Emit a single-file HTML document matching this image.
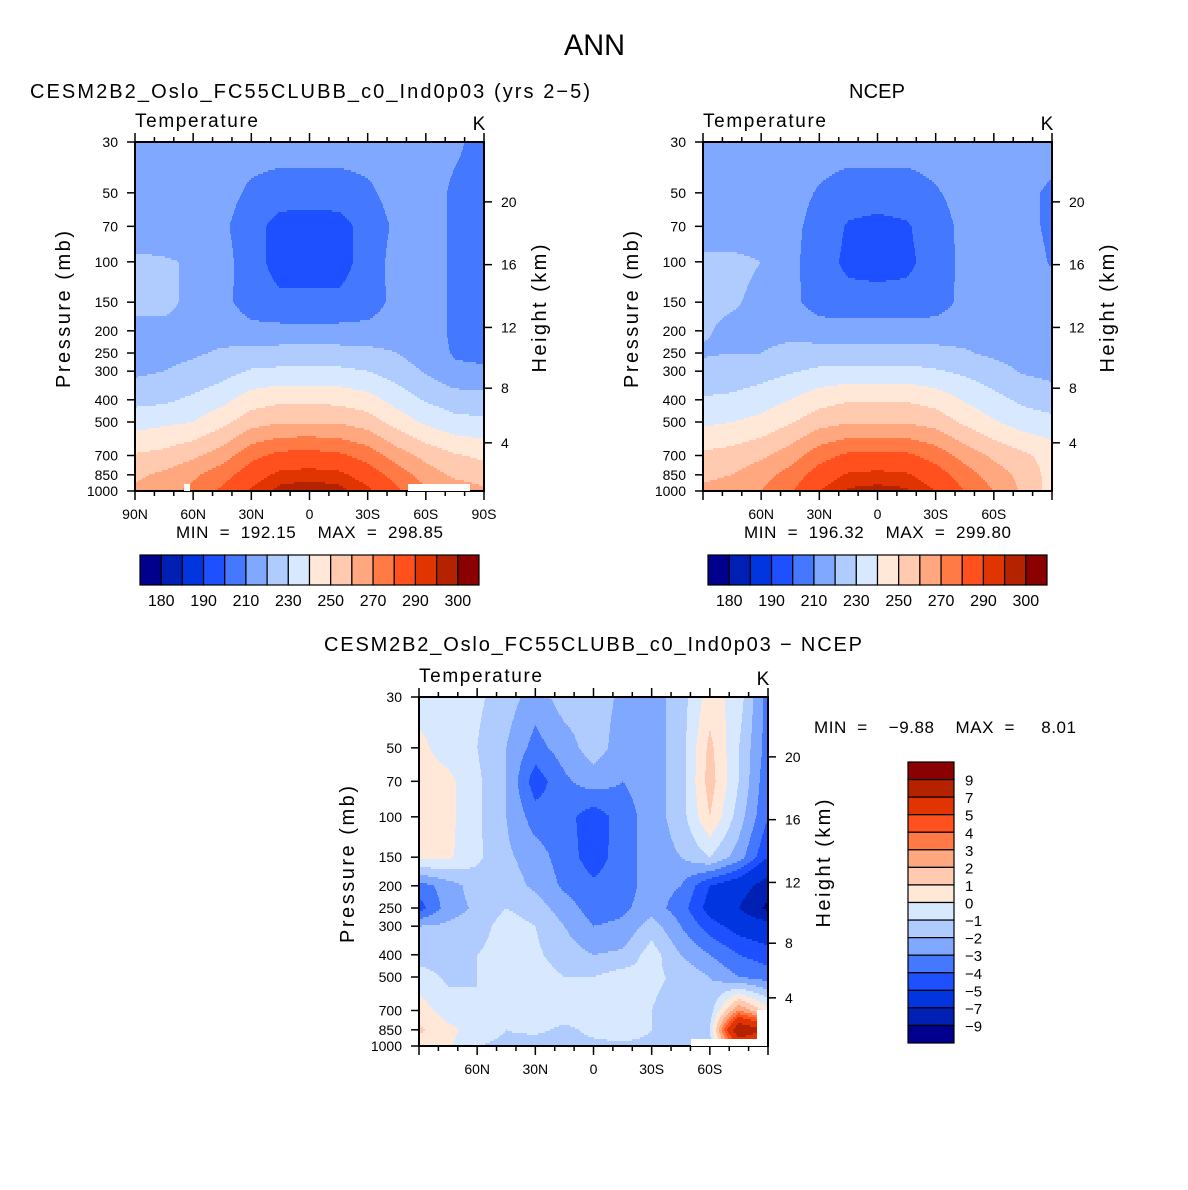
<!DOCTYPE html>
<html><head><meta charset="utf-8"><style>
html,body{margin:0;padding:0;background:#fff;}
svg{display:block;font-family:"Liberation Sans",sans-serif;}
text{fill:#000;white-space:pre;}
</style></head><body>
<svg id="root" width="1188" height="1190" viewBox="0 0 1188 1190" xmlns="http://www.w3.org/2000/svg">
<rect width="1188" height="1190" fill="#fff"/>
<text x="564" y="55" font-size="30" textLength="61" lengthAdjust="spacingAndGlyphs">ANN</text>
<g id="g1"></g>
<g id="g2"></g>
<g id="g3"></g>
</svg>
<script>
// ---- data ----
const lats = [90,75,60,45,30,15,0,-15,-30,-45,-60,-75,-90];
const plevs = [30,50,70,100,150,200,250,300,400,500,700,850,1000];
const tLevels = [180,185,190,200,210,220,230,240,250,260,270,280,290,295,300];
const tLabels = ["180","190","210","230","250","270","290","300"];
const dLevels = [-9,-7,-5,-4,-3,-2,-1,0,1,2,3,4,5,7,9];
const dLabels = ["9","7","5","4","3","2","1","0","\u22121","\u22122","\u22123","\u22124","\u22125","\u22127","\u22129"];
const pTicks = [30,50,70,100,150,200,250,300,400,500,700,850,1000];
const zTicks = [4,8,12,16,20];
const latTicksFull = ["90N","60N","30N","0","30S","60S","90S"];
const latTickVals = [90,60,30,0,-30,-60,-90];
const colors = ["#00008c","#0020b4","#0035e0","#1e50ff","#4479ff","#80a8ff","#b0ccff","#d8e8ff",
 "#ffe8d8","#ffcab0","#ffa880","#ff7a45","#ff501e","#e03500","#b52200","#8b0000"];
const modelT = [
 [215,215,215,215,215,215,215,215,215,215,215,212,206],
 [215,215,215,214,208,205,205,205,208,214,215,208,206],
 [214,214,214,212,204,196,195,196,204,212,215,208,206],
 [222,221,219,214,204,196,196,196,204,214,215,208,207],
 [222,222,218,213,205,202,202,202,205,213,215,208,207],
 [218,218,218,217,213,213,213,213,213,215,215,208,206],
 [217,218,219,221,223,224,224,224,223,220,215,209,207],
 [218,220,222,226,231,232,232,232,230,225,219,212,212],
 [227,228,232,237,245,248,248,247,244,236,229,225,224],
 [236,238,240,247,256,259,259,259,255,246,238,233,232],
 [251,253,258,265,277,283,284,282,276,265,257,251,248],
 [258,262,268,276,286,292,293,292,286,276,265,258,255],
 [262,266,273,282,291,297,298,297,292,282,272,266,262]];
const ncepT = [
 [215,219,215,215,215,215,215,215,215,215,214,215,215],
 [215,215,215,214,209,205,205,205,209,214,215,213,208],
 [215,215,215,213,206,199,197,199,205,213,215,213,208],
 [222,222,220,213,204,198,197,198,204,213,215,215,209],
 [222,221,218,213,205,203,203,203,205,213,216,216,215],
 [221,218,218,218,215,215,215,215,215,216,216,216,216],
 [219,220,220,222,224,224,224,224,223,221,218,216,214],
 [223,224,226,229,232,233,233,233,231,228,224,219,217],
 [231,232,235,240,246,249,249,249,246,239,233,228,225],
 [238,240,243,249,256,259,259,259,256,248,241,235,233],
 [252,254,258,265,276,282,283,282,276,266,258,252,246],
 [258,260,266,274,285,291,292,291,285,275,265,257,246],
 [262,264,270,279,290,296,297,296,290,280,270,258,246]];
const diffT = [
 [-0.5,-0.5,-0.8,-1.5,-2.5,-1.5,-1.5,-2.2,-2.5,-1.5,0.5,-0.5,-3.5],
 [0.3,-0.5,-1,-2,-3.4,-2.5,-1.5,-2.5,-2.5,-1.5,1.3,-1,-3.5],
 [0.5,0.3,-0.8,-2,-4.6,-3.2,-2.5,-3,-2.5,-1.5,1.5,-1,-3.8],
 [0.5,0.3,-0.8,-2,-3.5,-3.6,-4.6,-3.5,-2.5,-1.5,1,-1.5,-4],
 [0.3,0.2,-0.8,-1.8,-2.5,-3.5,-4.5,-3.5,-2.5,-2,-1,-2.5,-5],
 [-3.5,-2.5,-1.5,-1.5,-2.2,-3.2,-3.8,-3.5,-2.5,-3,-5,-6,-8],
 [-4.5,-2.5,-1.8,-1,-1.5,-2.5,-3.5,-3.2,-2.5,-3.5,-5.5,-7,-9.5],
 [-2,-1.8,-1.5,-0.5,-1,-2,-3,-2.8,-1.5,-3,-4.5,-5.5,-6],
 [-1.5,-1.5,-1,-0.5,-0.8,-1.5,-2,-1.8,-0.5,-2,-3,-4,-4.5],
 [-0.5,-1.2,-1,-0.5,-0.5,-1,-1,-0.5,-0.8,-1.2,-2,-3,-3.5],
 [0.5,-0.5,-1,-0.5,-0.5,-0.5,-0.5,-0.5,-1,-1.5,-1.5,3,0.5],
 [1.2,0.3,-0.5,-1,-0.8,-1.2,-0.8,-0.5,-1,-2,-1,9,7],
 [0.5,0.2,-1,-1.2,-1.5,-1.2,-1.2,-1.2,-1.2,-1.5,-1.5,5,3]];

const NS = "http://www.w3.org/2000/svg";
function mk(parent, tag, attrs, txt){
  const e = document.createElementNS(NS, tag);
  for (const k in attrs) e.setAttribute(k, attrs[k]);
  if (txt !== undefined) e.textContent = txt;
  parent.appendChild(e);
  return e;
}
function binIndex(v, lv){ let i=0; while(i<lv.length && v>=lv[i]) i++; return i; }
function zToP(z){ const m=z*1000; return m<=11000 ? 1013.25*Math.pow(1-2.25577e-5*m,5.25588) : 226.32*Math.exp(-(m-11000)/6341.6); }

function panel(g, X0, Y0, W, H, grid, lv, latLabels, latVals, fullLat){
  const lp0=Math.log(30), lp1=Math.log(1000);
  const yP = p => Y0 + H*(Math.log(p)-lp0)/(lp1-lp0);
  const xL = lat => X0 + W*(90-lat)/180;
  const invP = y => Math.exp(lp0 + (y-Y0)/H*(lp1-lp0));
  const field = mk(g,'g',{});
  
  
  const step=2;
  for (let y=Y0; y<Y0+H; y+=step){
    const p = invP(y+step/2);
    let k=0; while(k<plevs.length-2 && p>plevs[k+1]) k++;
    let fy=(Math.log(p)-Math.log(plevs[k]))/(Math.log(plevs[k+1])-Math.log(plevs[k]));
    fy=Math.max(0,Math.min(1,fy));
    let runStart=X0, runC=-1;
    const hh=Math.min(step, Y0+H-y);
    for (let x=X0; x<=X0+W; x++){
      let c=-1;
      if (x<X0+W){
        const lat = 90-(x+0.5-X0)/W*180;
        let fi=(90-lat)/15; let i=Math.min(lats.length-2,Math.floor(fi)); let fx=fi-i;
        const v=(1-fy)*((1-fx)*grid[k][i]+fx*grid[k][i+1])+fy*((1-fx)*grid[k+1][i]+fx*grid[k+1][i+1]);
        c=binIndex(v,lv);
      }
      if (c!==runC){
        if (runC>=0){
          const r=mk(field,'rect',{x:runStart,y:y,width:x-runStart+0.6,height:hh+0.6,fill:colors[runC]});
          
          
        }
        runStart=x; runC=c;
      }
    }
  }
  const fr=mk(g,'rect',{x:X0,y:Y0,width:W,height:H,fill:'none',stroke:'#000','stroke-width':2});
  
  
  pTicks.forEach(p=>{
    const y=yP(p);
    mk(g,'line',{x1:X0-8,x2:X0,y1:y,y2:y,stroke:'#000','stroke-width':1.5});
    const t=mk(g,'text',{x:X0-17,y:y+5,'font-size':14,'text-anchor':'end'},String(p));
    
    
  });
  zTicks.forEach(z=>{
    const y=yP(zToP(z));
    mk(g,'line',{x1:X0+W,x2:X0+W+8,y1:y,y2:y,stroke:'#000','stroke-width':1.5});
    const t=mk(g,'text',{x:X0+W+17,y:y+5,'font-size':14},String(z));
    
    
  });
  for (let lat=90; lat>=-90; lat-=10){
    const x=xL(lat), major=(lat%30===0);
    const len=major?9:5;
    mk(g,'line',{x1:x,x2:x,y1:Y0+H,y2:Y0+H+len,stroke:'#000','stroke-width':1.5});
    mk(g,'line',{x1:x,x2:x,y1:Y0,y2:Y0-len,stroke:'#000','stroke-width':1.5});
  }
  latVals.forEach((lat,i)=>{
    if (!fullLat && Math.abs(lat)===90) return;
    const t=mk(g,'text',{x:xL(lat),y:Y0+H+28,'font-size':14,'text-anchor':'middle'},latLabels[i]);
    
    
  });
  const a=mk(g,'text',{x:0,y:0,'font-size':20,'text-anchor':'middle',textLength:157,lengthAdjust:'spacing',transform:`translate(${X0-65},${Y0+H/2-7}) rotate(-90)`},'Pressure (mb)');
   
  const b=mk(g,'text',{x:0,y:0,'font-size':20,'text-anchor':'middle',textLength:128,lengthAdjust:'spacing',transform:`translate(${X0+W+62},${Y0+H/2-8}) rotate(-90)`},'Height (km)');
   
  const c=mk(g,'text',{x:X0,y:Y0-15,'font-size':19,textLength:123,lengthAdjust:'spacing'},'Temperature');
   
  const d=mk(g,'text',{x:X0+W-5,y:Y0-12,'font-size':19,'text-anchor':'middle'},'K');
   
}

function hbar(g,X0,Y0,W,H){
  const n=colors.length, bw=W/n;
  colors.forEach((c,i)=>{
    const r=mk(g,'rect',{x:X0+i*bw,y:Y0,width:bw,height:H,fill:c,stroke:'#000','stroke-width':1.2});
     
  });
  tLabels.forEach((l,j)=>{
    const t=mk(g,'text',{x:X0+(1+2*j)*bw,y:Y0+H+21,'font-size':16,'text-anchor':'middle'},l);
     
  });
}

const g1=document.getElementById('g1'), g2=document.getElementById('g2'), g3=document.getElementById('g3');
panel(g1,135,142,349,349,modelT,tLevels,latTicksFull,latTickVals,true);
panel(g2,703,142,349,349,ncepT,tLevels,latTicksFull,latTickVals,false);
panel(g3,419,697,349,349,diffT,dLevels,latTicksFull,latTickVals,false);

[[g1,408,484,62,7],[g1,184,484,6,7],[g3,691,1039,66,7],[g3,757,1010,10,36]].forEach(m=>{
  const r=mk(m[0],'rect',{x:m[1],y:m[2],width:m[3],height:m[4],fill:'#fff'});
   
});

let t;
t=mk(g1,'text',{x:30,y:98,'font-size':20,textLength:560,lengthAdjust:'spacing'},'CESM2B2_Oslo_FC55CLUBB_c0_Ind0p03 (yrs 2\u22125)');
 
t=mk(g1,'text',{x:176,y:538,'font-size':17,textLength:267,lengthAdjust:'spacing'},'MIN  =  192.15    MAX  =  298.85');
 
hbar(g1,140,555,339,30);

t=mk(g2,'text',{x:849,y:98,'font-size':20,textLength:56,lengthAdjust:'spacing'},'NCEP');
 
t=mk(g2,'text',{x:744,y:538,'font-size':17,textLength:267,lengthAdjust:'spacing'},'MIN  =  196.32    MAX  =  299.80');
 
hbar(g2,708,555,339,30);

t=mk(g3,'text',{x:324,y:651,'font-size':20,textLength:538,lengthAdjust:'spacing'},'CESM2B2_Oslo_FC55CLUBB_c0_Ind0p03 \u2212 NCEP');
 
t=mk(g3,'text',{x:814,y:733,'font-size':17,textLength:262,lengthAdjust:'spacing'},'MIN  =    \u22129.88    MAX  =     8.01');
 
(function(){
  const X0=908,Y0=762,W=46,H=281,n=colors.length,bh=H/n;
  for(let i=0;i<n;i++){
    const r=mk(g3,'rect',{x:X0,y:Y0+i*bh,width:W,height:bh,fill:colors[n-1-i],stroke:'#000','stroke-width':1.2});
     
  }
  dLabels.forEach((l,j)=>{
    const tt=mk(g3,'text',{x:965,y:Y0+(j+1)*bh+6,'font-size':15},l);
     
  });
})();
</script>
</body></html>
